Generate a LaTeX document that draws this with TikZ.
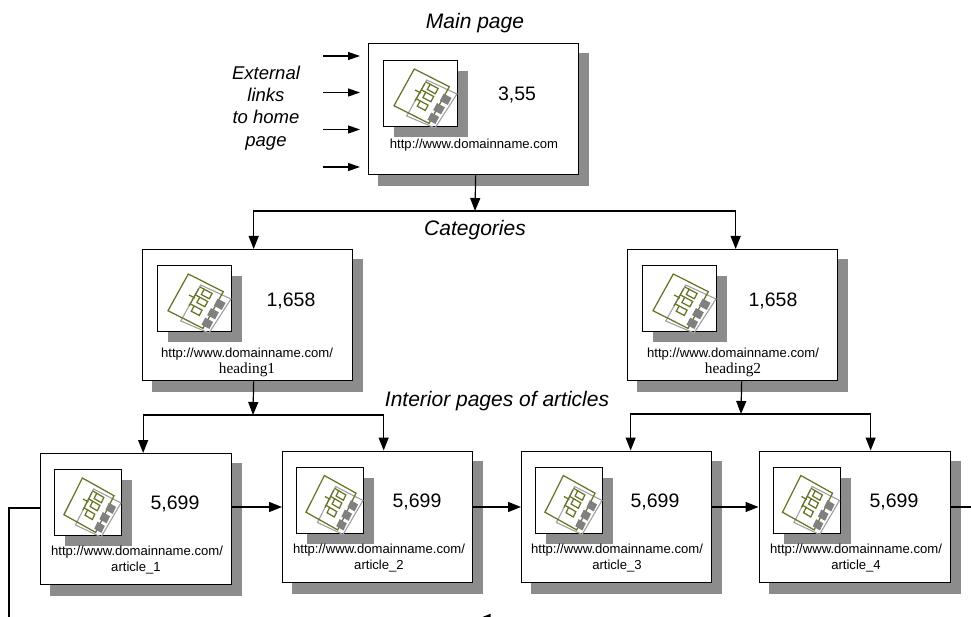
\documentclass[tikz,border=0pt]{standalone}
\usepackage{fontspec}
\setmainfont{Liberation Sans}
\newfontfamily\serifface{Liberation Serif}
\usetikzlibrary{arrows.meta}
\definecolor{shadowgray}{HTML}{8C8C8C}
\definecolor{iconolive}{HTML}{667526}
\definecolor{icongray}{HTML}{A0A0A0}
\definecolor{icondark}{HTML}{808080}
\tikzset{
  x=1pt,y=-1pt,
  card/.style={draw=black,fill=white,line width=1.3pt,minimum width=#1,minimum height=131pt,anchor=north west,inner sep=0pt},
  iconframe/.style={draw=black,fill=white,line width=1.3pt,minimum height=66pt,minimum width=#1,anchor=north west,inner sep=0pt},
  shade/.style={fill=shadowgray,draw=none},
  numtext/.style={font=\fontsize{19.5}{22}\selectfont,inner sep=0pt},
  urltext/.style={font=\fontsize{13.1}{15}\selectfont,inner sep=0pt},
  serifnote/.style={font=\serifface\fontsize{15.3}{17}\selectfont,inner sep=0pt},
  title/.style={font=\itshape\fontsize{21}{24}\selectfont,inner sep=0pt},
  side/.style={font=\itshape\fontsize{18.5}{22.3}\selectfont,inner sep=0pt,align=center},
  link/.style={draw=black,line width=1.2pt},
  tip/.style={link,-{Triangle[length=13pt,width=10pt]}},
  smalltip/.style={link,-{Triangle[length=12pt,width=8pt]}},
  oliveline/.style={draw=iconolive,line width=1.25pt},
  grayline/.style={draw=icongray,line width=1.1pt},
}
\newcommand\iconart[3]{%
  \begin{scope}[shift={(#1,#2)},xscale=#3]
    \draw[grayline] (43.7,20) -- (74,34) -- (52,68) -- (23.7,56) -- cycle;
    \draw[oliveline] (31.3,9) -- (66.3,26.7) -- (46,63.4) -- (11,45.7) -- cycle;
    \foreach \cx/\cy in {62.7/39.3,56/48.7,50.3/58.3}{
      \fill[icondark,rotate around={-28:(\cx,\cy)}] (\cx-4.5,\cy-4) rectangle (\cx+4.5,\cy+4);
    }
    \draw[oliveline] (42,23.3) -- (32,41);
    \draw[oliveline] (32,30) -- (38,33);
    \foreach \cx/\cy in {49.7/29,45.3/37,39.7/45.7}{
      \draw[oliveline,rotate around={-28:(\cx,\cy)}] (\cx-4.5,\cy-3) rectangle (\cx+4.5,\cy+3);
      \draw[oliveline,rotate around={-28:(\cx,\cy)}] (\cx-4.5,\cy-3) -- (\cx-9.5,\cy-3);
    }
  \end{scope}}
\newcommand\pcard[7]{% name,left,top,width,icondx,icondy,iconw
  \fill[shade] (#2+10,#3+10) rectangle (#2+#4+11,#3+143);
  \node[card=#4pt] (#1) at (#2,#3) {};
  \fill[shade] (#2+#5+11,#3+#6+11) rectangle (#2+#5+#7+11,#3+#6+77);
  \node[iconframe=#7pt] (#1icon) at (#2+#5,#3+#6) {};
  \pgfmathsetmacro\iconscale{#7/74}
  \iconart{#2+#5}{#3+#6}{\iconscale}
}
\begin{document}
\begin{tikzpicture}
\useasboundingbox (0,0) rectangle (971,617);
\clip (0,0) rectangle (971,617);
\fill[white] (0,0) rectangle (971,617);

% Cards
\pcard{main}{368}{43}{210}{15}{17}{74}
\node[numtext] (mainnum) at (517,95) {3,55};
\node[urltext] (mainurl) at (474,145) {http://www.domainname.com};

\pcard{hA}{142}{249}{210}{15}{16}{74}
\node[numtext] (hAnum) at (291,301) {1,658};
\node[urltext] (hAurl) at (247,354) {http://www.domainname.com/};
\node[serifnote] (hAsub) at (247,369.5) {heading1};

\pcard{hB}{627}{249}{210}{15}{16}{74}
\node[numtext] (hBnum) at (773,301) {1,658};
\node[urltext] (hBurl) at (733,354) {http://www.domainname.com/};
\node[serifnote] (hBsub) at (733,369.5) {heading2};

\pcard{aA}{40}{453}{191}{14}{16}{67}
\node[numtext] (aAnum) at (175,504) {5,699};
\node[urltext] (aAurl) at (137,552) {http://www.domainname.com/};
\node[urltext] (aAsub) at (136,568) {article\_1};

\pcard{aB}{282}{450.5}{190}{14}{16}{67}
\node[numtext] (aBnum) at (417,502) {5,699};
\node[urltext] (aBurl) at (379,550) {http://www.domainname.com/};
\node[urltext] (aBsub) at (379,566) {article\_2};

\pcard{aC}{521}{450.5}{190}{14}{16}{67}
\node[numtext] (aCnum) at (655,502) {5,699};
\node[urltext] (aCurl) at (617,550) {http://www.domainname.com/};
\node[urltext] (aCsub) at (617,566) {article\_3};

\pcard{aD}{758.5}{450.5}{191}{14}{16}{67}
\node[numtext] (aDnum) at (894,502) {5,699};
\node[urltext] (aDurl) at (856,550) {http://www.domainname.com/};
\node[urltext] (aDsub) at (856,566) {article\_4};

% Titles
\node[title] (tmain) at (475,23) {Main page};
\node[title] (tcat) at (475,230) {Categories};
\node[title] (tint) at (497,401) {Interior pages of articles};
\node[side] (ext) at (266,108) {External\\links\\to home\\page};

% External link arrows
\foreach \i/\yy in {1/56,2/92.5,3/129.5,4/167}{
  \coordinate (ex\i) at (323,\yy);
  \coordinate (exEnd\i) at (360,\yy);
  \draw[smalltip] (ex\i) -- (exEnd\i);
}
% Hierarchy
\coordinate (busM) at (475,211);
\draw[tip] ([xshift=2pt]main.south) -- (busM);
\draw[tip] (busM) -| ([xshift=6pt]hA.north);
\draw[tip] (busM) -| ([xshift=3pt]hB.north);

\coordinate (busA) at (253,415);
\draw[tip] ([xshift=6pt]hA.south) -- (busA);
\draw[tip] (busA) -| ([xshift=7pt]aA.north);
\draw[tip] (busA) -| ([xshift=6pt]aB.north);

\coordinate (busB) at (741,414);
\draw[tip] ([xshift=9pt]hB.south) -- (busB);
\draw[tip] (busB) -| ([xshift=14pt]aC.north);
\draw[tip] (busB) -| ([xshift=16pt]aD.north);

% Chain
\coordinate (rowY) at (0,507);
\draw[tip] (aA.east |- rowY) -- (aB.west |- rowY);
\draw[tip] (aB.east |- rowY) -- (aC.west |- rowY);
\draw[tip] (aC.east |- rowY) -- (aD.west |- rowY);
\coordinate (outR) at (971,507);
\draw[link] (aD.east |- outR) -- (outR);
\coordinate (outL) at (9,620);
\coordinate (rowZ) at (0,508);
\draw[link] (aA.west |- rowZ) -| (outL);
% return arrow, cut off by the bottom edge
\coordinate (retEnd) at (477.5,619);
\coordinate (retStart) at (560,619);
\draw[tip] (retStart) -- (retEnd);
\end{tikzpicture}
\end{document}
